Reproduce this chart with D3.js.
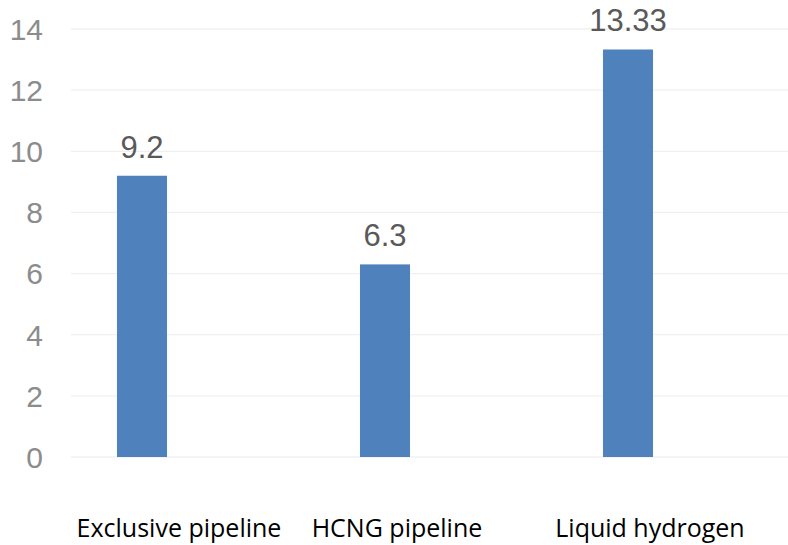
<!DOCTYPE html>
<html><head><meta charset="utf-8">
<script src="https://cdn.jsdelivr.net/npm/d3@7"></script>
<style>body{margin:0;background:#fff}</style>
</head><body>
<svg id="c" width="788" height="545"></svg>
<script>
const categories = ["Exclusive pipeline", "HCNG pipeline", "Liquid hydrogen"];
const values = [9.2, 6.3, 13.33];
const valueLabels = ["9.2", "6.3", "13.33"];
const yTicks = [0, 2, 4, 6, 8, 10, 12, 14];

const labelShift = [37, 12, 22];

const svg = d3.select("#c");
const y = d3.scaleLinear().domain([0, 14]).range([457, 29]);
const x = d3.scaleBand().domain(categories).range([20.5, 749.5]).paddingInner(0.794).paddingOuter(0.397);

// gridlines
svg.append("g").selectAll("line").data(yTicks).join("line")
  .attr("x1", 71).attr("x2", 788)
  .attr("y1", d => y(d)).attr("y2", d => y(d))
  .attr("stroke", "#f0f0f0").attr("stroke-width", 1.3);

// y labels
svg.append("g").selectAll("text").data(yTicks).join("text")
  .attr("x", 43).attr("y", d => y(d)).attr("dy", "0.36em")
  .attr("text-anchor", "end")
  .attr("font-family", "Liberation Sans, Arial, sans-serif")
  .attr("font-size", 30).attr("fill", "#8c8c8c")
  .text(d => d);

// bars
svg.append("g").selectAll("rect").data(values).join("rect")
  .attr("x", (d, i) => x(categories[i]))
  .attr("width", x.bandwidth())
  .attr("y", d => y(d))
  .attr("height", d => y(0) - y(d))
  .attr("fill", "#4f81bd");

// value labels
svg.append("g").selectAll("text").data(values).join("text")
  .attr("x", (d, i) => x(categories[i]) + x.bandwidth() / 2)
  .attr("y", d => y(d) - 18)
  .attr("text-anchor", "middle")
  .attr("font-family", "Liberation Sans, Arial, sans-serif")
  .attr("font-size", 31).attr("fill", "#595959")
  .text((d, i) => valueLabels[i]);

// category labels
svg.append("g").selectAll("text").data(categories).join("text")
  .attr("x", (d, i) => x(d) + x.bandwidth() / 2 + labelShift[i])
  .attr("y", 537)
  .attr("text-anchor", "middle")
  .attr("font-family", "Open Sans, Noto Sans, sans-serif")
  .attr("font-size", 25).attr("fill", "#000")
  .text(d => d);
</script>
</body></html>
